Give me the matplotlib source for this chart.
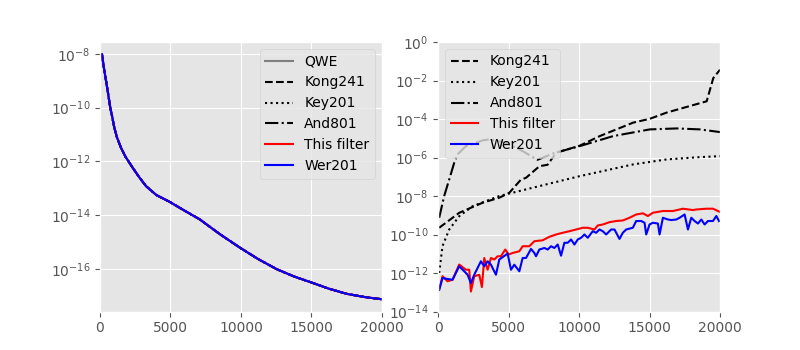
import numpy as np
import matplotlib
matplotlib.use("Agg")
import matplotlib.pyplot as plt

plt.style.use("ggplot")

# ---- left panel: absolute values (all methods overlap) ----
left_x = [140, 200, 300, 430, 550, 735, 850, 1020, 1200, 1495, 1800, 2325, 2800, 3270, 4000, 4935,
          6000, 7070, 8500, 9917, 11200, 12527, 13800, 15018, 16200, 17509, 18800, 20000]
left_log = [-8.02, -8.25, -8.6, -9.01, -9.4, -10.02, -10.3, -10.76, -11.1, -11.5, -11.82, -12.24, -12.6,
            -12.92, -13.25, -13.5, -13.83, -14.15, -14.7, -15.2, -15.62, -16.0, -16.28, -16.5, -16.72,
            -16.92, -17.04, -17.12]

left_labels = ["QWE", "Kong241", "Key201", "And801", "This filter", "Wer201"]
left_styles = [("gray", "-"), ("black", "--"), ("black", ":"), ("black", "-."), ("red", "-"), ("blue", "-")]

# ---- right panel: relative errors ----
kong_x = [70, 1500, 3155, 4340, 5050, 5860, 6240, 7190, 7760, 8375, 10036, 11460, 13830, 15018, 16200, 19053, 19526, 20000]
kong_log = [-9.65, -8.87, -8.35, -8.09, -7.83, -7.16, -7.05, -6.45, -6.38, -5.75, -5.39, -4.89, -4.19, -3.99, -3.67, -3.08, -1.87, -1.44]

key_x = [70, 308, 783, 1494, 2444, 4340, 6714, 10035, 13830, 16200, 18577, 20000]
key_log = [-12.0, -10.6, -9.74, -9.05, -8.53, -8.0, -7.57, -6.97, -6.36, -6.1, -5.98, -5.93]

and_x = [70, 427, 783, 1139, 1376, 1969, 3155, 3630, 4816, 6002, 7046, 8233, 10035, 12408, 15018, 16916, 18577, 20000]
and_log = [-9.13, -8.0, -7.14, -6.27, -5.84, -5.41, -5.11, -5.06, -5.23, -5.67, -6.12, -5.77, -5.41, -4.89, -4.54, -4.49, -4.54, -4.68]

this_x = [71, 308, 663, 1019, 1493, 1967, 2204, 2322, 2559, 2915, 3104, 3270, 3507, 3744, 3981, 4218,
          4455, 4763, 5000, 5284, 5758, 5995, 6469, 6825, 7417, 7891, 8365, 8839, 9313, 9787, 10261,
          10616, 11090, 11327, 11682, 12156, 12630, 13104, 13578, 14052, 14526, 14882, 15237, 15948,
          16659, 17370, 18081, 18318, 19028, 19502, 20000]
this_log = [-12.87, -12.17, -12.43, -12.35, -11.56, -11.83, -11.83, -12.96, -12.17, -12.09, -12.73, -11.22,
            -11.83, -11.22, -11.30, -11.13, -11.13, -10.78, -11.04, -10.96, -10.87, -10.61, -10.61, -10.35,
            -10.30, -10.12, -10.00, -9.91, -9.83, -9.74, -9.65, -9.65, -9.74, -9.53, -9.48, -9.36, -9.30,
            -9.27, -9.13, -8.96, -8.90, -9.04, -8.87, -8.78, -8.78, -8.66, -8.73, -8.70, -8.66, -8.66, -8.83]

wer_x = [71, 308, 663, 1019, 1493, 1848, 2085, 2322, 2559, 3033, 3270, 3507, 3744, 4100, 4336, 4929,
         5166, 5403, 5758, 5995, 6232, 6588, 6825, 6943, 7180, 7536, 7773, 8009, 8246, 8483, 8720, 8957,
         9194, 9431, 9668, 9905, 10142, 10379, 10616, 10972, 11209, 11445, 11682, 11919, 12275, 12512,
         12867, 13104, 13341, 13815, 14052, 14408, 14645, 14763, 15000, 15237, 15592, 15711, 15948,
         16303, 16540, 16896, 17133, 17488, 17725, 17962, 18199, 18436, 18673, 18910, 19147, 19502,
         19739, 19929]
wer_log = [-12.87, -12.26, -12.31, -12.35, -11.65, -11.91, -12.09, -12.52, -12.09, -11.39, -11.65, -11.39,
           -11.57, -12.09, -11.30, -10.99, -11.83, -11.57, -11.91, -11.22, -11.22, -10.75, -10.96, -11.13,
           -10.78, -10.70, -10.78, -10.61, -10.70, -10.52, -11.10, -10.43, -10.43, -10.26, -10.52, -10.26,
           -10.17, -10.00, -10.17, -9.83, -9.91, -9.74, -9.83, -10.00, -9.74, -9.74, -10.23, -9.91, -9.74,
           -9.65, -9.30, -9.30, -9.39, -10.00, -9.48, -9.39, -9.43, -10.00, -9.13, -9.22, -9.25, -9.22,
           -9.13, -8.96, -9.74, -9.13, -9.30, -9.43, -9.22, -9.48, -9.30, -9.30, -9.04, -9.30]

fig, (ax1, ax2) = plt.subplots(1, 2, figsize=(8, 3.5), dpi=100)

lx = np.array(left_x)
ly = 10.0 ** np.array(left_log)
for lab, (c, ls) in zip(left_labels, left_styles):
    ax1.semilogy(lx, ly, color=c, linestyle=ls, label=lab)
ax1.set_xlim(0, 20000)
ax1.legend(loc="upper right")

right_series = [
    ("Kong241", kong_x, kong_log, "black", "--"),
    ("Key201", key_x, key_log, "black", ":"),
    ("And801", and_x, and_log, "black", "-."),
    ("This filter", this_x, this_log, "red", "-"),
    ("Wer201", wer_x, wer_log, "blue", "-"),
]
for lab, xs, ys, c, ls in right_series:
    ax2.semilogy(np.array(xs), 10.0 ** np.array(ys), color=c, linestyle=ls, label=lab)
ax2.set_xlim(0, 20000)
ax2.set_ylim(1e-14, 1e0)
ax2.legend(loc="upper left")

fig.savefig("out.png", dpi=100)
